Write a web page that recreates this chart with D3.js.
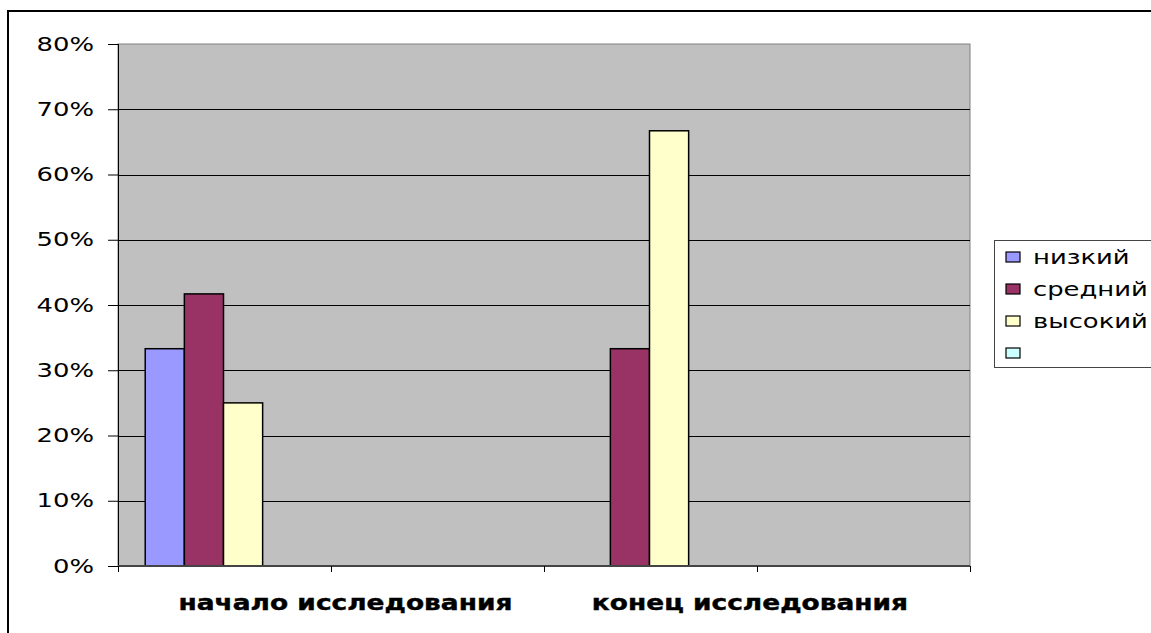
<!DOCTYPE html>
<html><head><meta charset="utf-8">
<script src="https://cdn.jsdelivr.net/npm/d3@7"></script>
<style>body{margin:0;background:#fff}svg{display:block}text{font-family:"DejaVu Sans",Verdana,sans-serif}</style>
</head><body><svg id="c" width="1151" height="633"></svg>
<script>
const categories = ["начало исследования", "", "конец исследования", ""];
const seriesNames = ["низкий", "средний", "высокий", ""];
const seriesColors = ["#9999FF", "#993366", "#FFFFCC", "#CCFFFF"];
const nizkiy  = [33.3, null, 0, null];
const sredniy = [41.7, null, 33.3, null];
const vysokiy = [25.0, null, 66.7, null];
const fourth  = [null, null, null, null];
const yTicks = [0, 10, 20, 30, 40, 50, 60, 70, 80];
const xLabels = ["начало исследования", "конец исследования"];
const xLabelAnchor = [1.068, 2.967]; // in category units

const series = [nizkiy, sredniy, vysokiy, fourth];
const svg = d3.select("#c");
function stretch(k){ return sel => sel.each(function(){ const w=this.getComputedTextLength(); d3.select(this).attr("textLength", w*k).attr("lengthAdjust","spacingAndGlyphs"); }); }

// outer border
svg.append("rect").attr("x",8).attr("y",11).attr("width",1160).attr("height",640)
  .attr("fill","none").attr("stroke","#000").attr("stroke-width",2);

const L=118, R=970, T=44, B=566;
const x = d3.scaleBand().domain(d3.range(categories.length)).range([L,R]);
const y = d3.scaleLinear().domain([0,80]).range([B,T]);
const groupW = x.bandwidth()*0.735;
const xs = d3.scaleBand().domain(d3.range(series.length)).range([0,groupW]);

svg.append("rect").attr("x",L).attr("y",T).attr("width",R-L).attr("height",B-T)
  .attr("fill","#C0C0C0").attr("stroke","#808080").attr("stroke-width",1);

// gridlines
svg.append("g").selectAll("line").data(yTicks.filter(d=>d>0 && d<80)).join("line")
  .attr("x1",L).attr("x2",R).attr("y1",d=>Math.round(y(d))+0.5).attr("y2",d=>Math.round(y(d))+0.5)
  .attr("stroke","#000").attr("stroke-width",1);

// bars
series.forEach((s,si)=>{
  svg.append("g").selectAll("rect").data(s.map((v,i)=>({v,i})).filter(d=>d.v!==null && d.v>0)).join("rect")
    .attr("x",d=>x(d.i)+(x.bandwidth()-groupW)/2+xs(si)-1)
    .attr("width",xs.bandwidth())
    .attr("y",d=>y(d.v)).attr("height",d=>B-y(d.v))
    .attr("fill",seriesColors[si]).attr("stroke","#000").attr("stroke-width",1.5);
});

// y axis
const yAxis = svg.append("g").attr("transform",`translate(${L},0)`)
  .call(d3.axisLeft(y).tickValues(yTicks).tickFormat(d=>d+"%").tickSize(10).tickPadding(14));
yAxis.select(".domain").attr("d",`M0.5,${T}V${B+6}`).attr("stroke","#000");
yAxis.selectAll(".tick line").attr("stroke","#000");
yAxis.selectAll("text").attr("font-size",19).attr("fill","#000").call(stretch(1.36));

// x axis
const xAxis = svg.append("g").attr("transform",`translate(0,${B})`);
xAxis.append("line").attr("x1",L).attr("x2",R).attr("y1",0).attr("y2",0).attr("stroke","#444").attr("stroke-width",2);
xAxis.selectAll("line.t").data(d3.range(categories.length+1)).join("line").attr("class","t")
  .attr("x1",i=>Math.round(L+i*x.step())+0.5).attr("x2",i=>Math.round(L+i*x.step())+0.5)
  .attr("y1",0).attr("y2",6).attr("stroke","#000");
const xl = d3.scaleLinear().domain([0,categories.length]).range([L,R]);
xAxis.selectAll("text").data(xLabels).join("text")
  .attr("x",(d,i)=>xl(xLabelAnchor[i])).attr("y",44).attr("text-anchor","middle")
  .attr("font-size",20.5).attr("font-weight","bold").attr("fill","#000")
  .attr("stroke","#000").attr("stroke-width",0.4).text(d=>d).call(stretch(1.29));

// legend
const lg = svg.append("g");
lg.append("rect").attr("x",994.5).attr("y",240.5).attr("width",200).attr("height",127)
  .attr("fill","#fff").attr("stroke","#444").attr("stroke-width",1);
const rowY = d3.scalePoint().domain(d3.range(seriesNames.length)).range([257,353]);
seriesNames.forEach((n,i)=>{
  lg.append("rect").attr("x",1006).attr("y",rowY(i)-5).attr("width",14).attr("height",10)
    .attr("fill",seriesColors[i]).attr("stroke","#000").attr("stroke-width",1.2);
  if(n) lg.append("text").attr("x",1033).attr("y",rowY(i)).attr("dy","0.36em")
    .attr("font-size",19).attr("fill","#000").text(n).call(stretch(1.36));
});
</script></body></html>
